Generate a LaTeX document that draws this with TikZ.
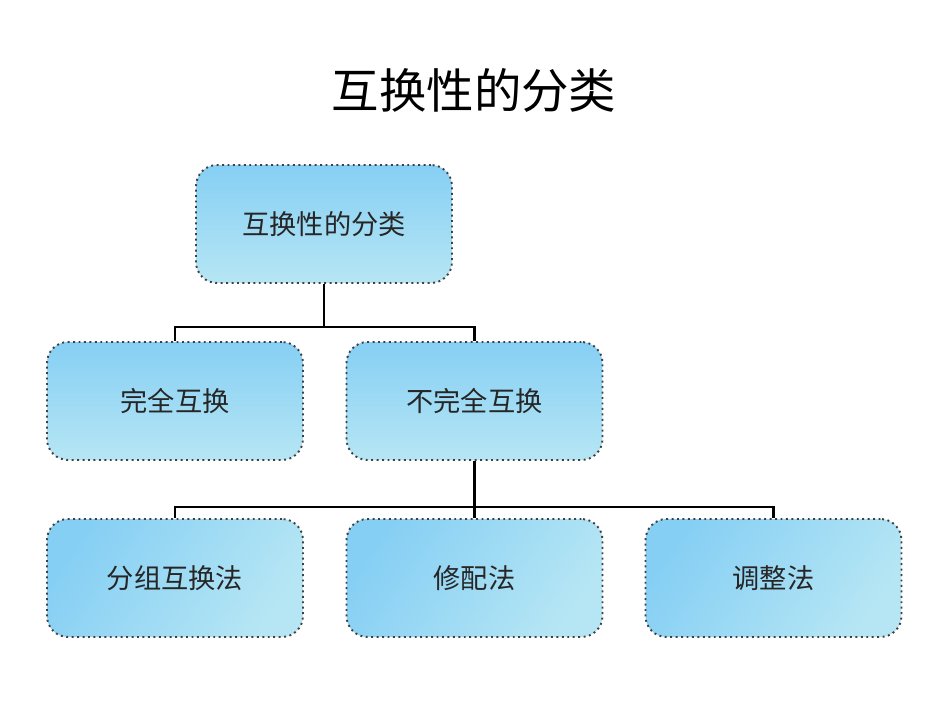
\documentclass[tikz,border=0pt]{standalone}
\usepackage{fontspec}
\setmainfont{Noto Sans CJK SC}
\newfontfamily\cjk{Noto Sans CJK SC}
\definecolor{boxtop}{HTML}{86CFF4}
\definecolor{boxlow}{HTML}{B6E6F4}
\tikzset{
  catbox/.style={draw=black!75, dotted, line width=1.1pt, rounded corners=0.42cm,
    minimum width=5.12cm, minimum height=2.36cm, font=\cjk\fontsize{15.5}{18}\selectfont,
    text=black!85, top color=boxtop, bottom color=boxlow},
  subbox/.style={catbox, left color=boxtop, right color=boxlow, shading angle=55},
  link/.style={line width=1.4pt, black}
}
\begin{document}
\begin{tikzpicture}[x=0.02cm,y=-0.02cm]
  \useasboundingbox (0,0) rectangle (950,713);
  \node[font=\cjk\fontsize{27}{32}\selectfont] (title) at (474,90) {互换性的分类};
  % tree
  \node[catbox] (root) at (324,224) {互换性的分类};
  \node[catbox] (full) at (175,401) {完全互换};
  \node[catbox] (part) at (474.5,401) {不完全互换};
  \node[subbox] (group) at (175,578) {分组互换法};
  \node[subbox] (fit) at (474.5,578) {修配法};
  \node[subbox] (adjust) at (773.5,578) {调整法};
  \coordinate (j1) at (324,327);
  \coordinate (j2) at (474.5,507);
  \draw[link] (root.south) -- (j1);
  \draw[link] (full.north) |- (j1) -| (part.north);
  \draw[link] (part.south) -- (j2);
  \draw[link] (group.north) |- (j2) -| (adjust.north);
  \draw[link] (j2) -- (fit.north);
\end{tikzpicture}
\end{document}
